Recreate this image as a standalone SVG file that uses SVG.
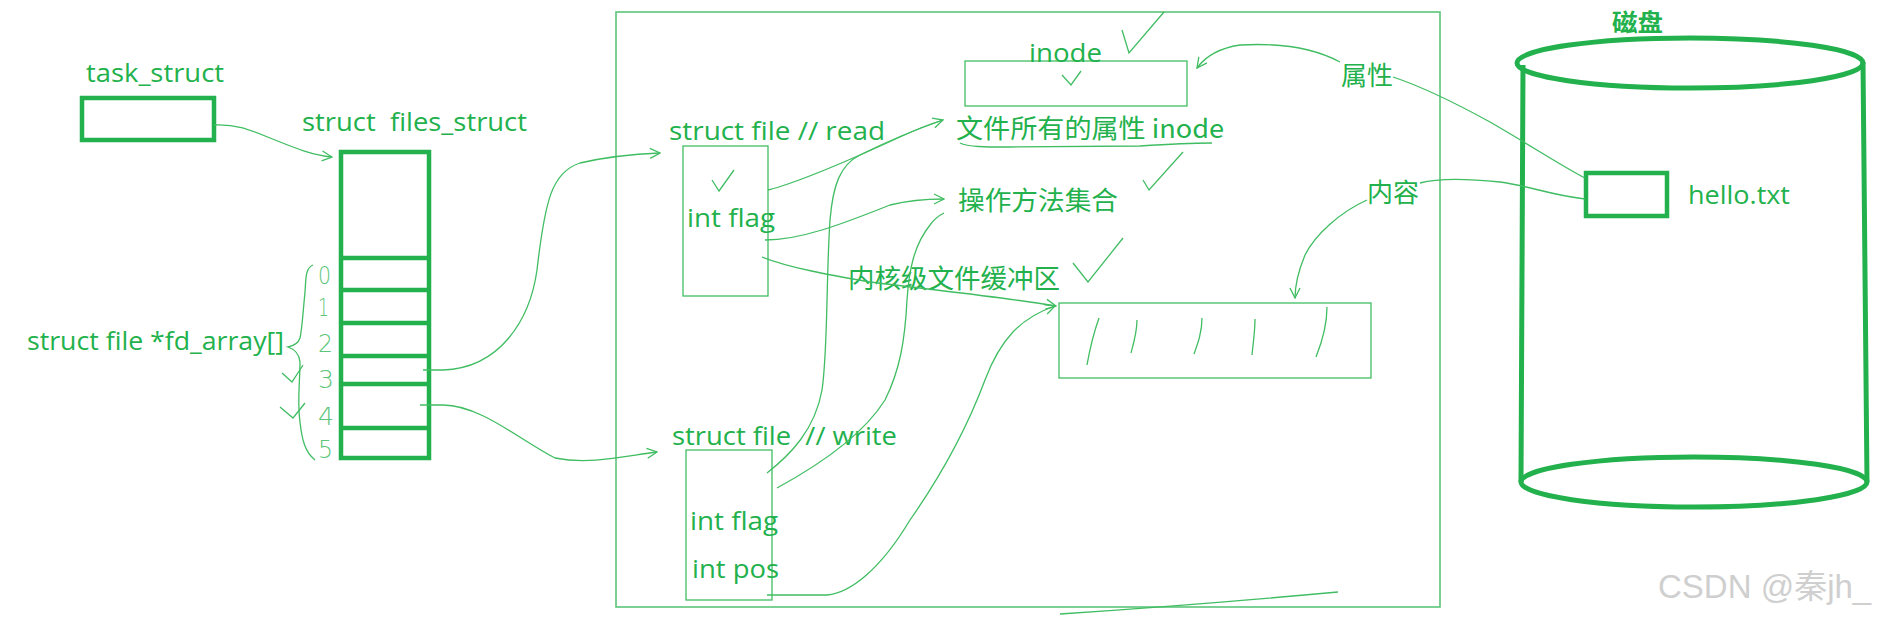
<svg xmlns="http://www.w3.org/2000/svg" width="1879" height="620" viewBox="0 0 1879 620">
<defs>
<marker id="ah" viewBox="0 0 12 12" refX="11" refY="6" markerWidth="12" markerHeight="12" markerUnits="userSpaceOnUse" orient="auto">
<path d="M1,1 L11,6 L1,11" fill="none" stroke="#40bd62" stroke-width="1.3"/>
</marker>
</defs>
<style>
.thick{fill:none;stroke:#22b14c;stroke-width:4.5}
.thin{fill:none;stroke:#40bd62;stroke-width:1.3}
.frame{fill:none;stroke:#5cc57a;stroke-width:1.6}
.t{font-family:"Open Sans","Noto Sans CJK SC",sans-serif;font-size:26px;fill:#22b14c}
.c{font-family:"Noto Sans CJK SC",sans-serif;font-size:26px;fill:#22b14c}
.d{font-family:"DejaVu Sans",sans-serif;font-size:25px;fill:#5cc57a;font-weight:200}
.wm{font-family:"Liberation Sans","Noto Sans CJK SC",sans-serif;font-size:33px;fill:#cfcfcf}
</style>
<rect width="1879" height="620" fill="#ffffff"/>

<g id="kernel-frame">
<rect class="frame" x="616" y="12" width="824" height="595"/>
</g>

<g id="task_struct">
<text class="t" x="86" y="82" textLength="138" lengthAdjust="spacingAndGlyphs">task_struct</text>
<rect class="thick" x="82" y="98" width="132" height="42"/>
</g>

<g id="files_struct">
<text class="t" x="302" y="131" textLength="225" lengthAdjust="spacingAndGlyphs" xml:space="preserve">struct  files_struct</text>
<rect class="thick" x="341" y="152" width="88" height="306"/>
<path class="thick" d="M341,258 H429 M341,290 H431 M341,323 H431 M341,356 H431 M341,384 H429 M341,428 H429"/>
</g>

<g id="fd_array">
<text class="t" x="27" y="350" textLength="257" lengthAdjust="spacingAndGlyphs">struct file *fd_array[]</text>
<path class="thin" d="M313,265 C305,268 306,280 305,292 C303,312 302,330 300,338 C298,344 293,346 288,347 C294,349 299,353 300,362 C300,382 297,402 300,422 C302,440 305,452 315,460"/>
<text class="d" x="318" y="284" textLength="13" lengthAdjust="spacingAndGlyphs">0</text>
<text class="d" x="318" y="316" textLength="11" lengthAdjust="spacingAndGlyphs">1</text>
<text class="d" x="318" y="352" textLength="15" lengthAdjust="spacingAndGlyphs">2</text>
<text class="d" x="318" y="388" textLength="16" lengthAdjust="spacingAndGlyphs">3</text>
<text class="d" x="318" y="425" textLength="16" lengthAdjust="spacingAndGlyphs">4</text>
<text class="d" x="318" y="458" textLength="15" lengthAdjust="spacingAndGlyphs">5</text>
<path class="thin" d="M282,373 L292,382 L303,365 M280,407 L293,418 L305,403"/>
</g>

<g id="file_read">
<text class="t" x="669" y="140" textLength="216" lengthAdjust="spacingAndGlyphs">struct file // read</text>
<rect class="thin" x="683" y="146" width="85" height="150"/>
<path class="thin" d="M712,180 L719,191 L734,170"/>
<text class="t" x="687" y="227" textLength="88" lengthAdjust="spacingAndGlyphs">int flag</text>
</g>

<g id="file_write">
<text class="t" x="672" y="445" textLength="225" lengthAdjust="spacingAndGlyphs" xml:space="preserve">struct file  // write</text>
<rect class="thin" x="686" y="450" width="86" height="150"/>
<text class="t" x="690" y="530" textLength="88" lengthAdjust="spacingAndGlyphs">int flag</text>
<text class="t" x="692" y="578" textLength="87" lengthAdjust="spacingAndGlyphs">int pos</text>
</g>

<g id="inode">
<rect class="thin" x="965" y="61" width="222" height="45"/>
<text class="t" x="1029" y="62" textLength="73" lengthAdjust="spacingAndGlyphs">inode</text>
<path class="thin" d="M1062,75 L1071,85 L1081,71"/>
<path class="thin" d="M1122,30 L1129,53 L1164,12"/>
</g>

<g id="attributes">
<text class="c" x="956" y="138" textLength="268" lengthAdjust="spacingAndGlyphs">文件所有的属性 inode</text>
<path class="thin" d="M960,143 C968,147 985,147 1010,147 L1140,146 C1170,144 1195,143 1212,143"/>
<path class="thin" d="M1143,180 L1149,190 L1183,152"/>
</g>

<g id="operations">
<text class="c" x="958" y="210" textLength="160" lengthAdjust="spacingAndGlyphs">操作方法集合</text>
</g>

<g id="kernel-buffer">
<text class="c" x="848" y="288" textLength="212" lengthAdjust="spacingAndGlyphs">内核级文件缓冲区</text>
<path class="thin" d="M1073,263 L1088,282 L1123,238"/>
<rect class="thin" x="1059" y="303" width="312" height="75"/>
<path class="thin" d="M1099,318 C1094,332 1090,348 1087,365 M1137,320 C1137,332 1134,342 1131,353 M1202,318 C1202,332 1198,343 1194,354 M1255,319 C1255,332 1253,344 1252,355 M1327,307 C1327,325 1322,342 1316,357"/>
</g>

<g id="labels-right">
<text class="c" x="1341" y="85" textLength="52" lengthAdjust="spacingAndGlyphs">属性</text>
<text class="c" x="1367" y="202" textLength="52" lengthAdjust="spacingAndGlyphs">内容</text>
</g>

<g id="disk">
<text class="c" x="1612" y="31" textLength="51" lengthAdjust="spacingAndGlyphs" font-weight="bold" style="font-size:24px">磁盘</text>
<ellipse class="thick" cx="1690" cy="63" rx="173" ry="25" style="stroke-width:5"/>
<ellipse class="thick" cx="1694" cy="482" rx="173" ry="25" style="stroke-width:5"/>
<path class="thick" d="M1523,65 L1521,482 M1863,62 L1867,482" style="stroke-width:5"/>
</g>

<g id="hello_txt">
<rect class="thick" x="1586" y="173" width="81" height="43"/>
<text class="t" x="1688" y="204" textLength="102" lengthAdjust="spacingAndGlyphs">hello.txt</text>
</g>

<g id="connectors">
<path class="thin" marker-end="url(#ah)" d="M214,125 C240,124 252,131 275,140 C295,148 312,155 332,157"/>
<path class="thin" marker-end="url(#ah)" d="M423,370 L443,370 C500,368 530,320 537,270 C545,200 552,172 580,163 C610,156 635,154 660,153"/>
<path class="thin" marker-end="url(#ah)" d="M420,405 L443,405 C480,405 520,440 555,458 C590,465 625,456 657,452"/>
<path class="thin" marker-end="url(#ah)" d="M768,190 C800,182 850,160 900,137 C915,130 930,124 943,120"/>
<path class="thin" marker-end="url(#ah)" d="M765,240 C800,240 840,225 890,205 C910,200 930,199 944,199"/>
<path class="thin" marker-end="url(#ah)" d="M762,257 C790,268 830,275 870,282 C950,292 1010,298 1056,306"/>
<path class="thin" d="M767,473 C790,455 815,430 822,390 C828,350 826,280 830,220 C833,185 840,165 860,155 C890,140 920,128 943,120"/>
<path class="thin" d="M777,488 C810,470 860,440 885,400 C900,370 905,340 907,300 C909,270 914,245 930,225 C935,218 940,215 944,213"/>
<path class="thin" marker-end="url(#ah)" d="M767,595 L827,595 C850,593 880,570 910,520 C945,470 970,420 985,380 C1000,340 1020,318 1055,306"/>
<path class="thin" marker-end="url(#ah)" d="M1340,62 C1310,46 1275,43 1240,45 C1220,48 1205,57 1197,68"/>
<path class="thin" d="M1393,77 C1420,86 1450,100 1490,122 C1530,145 1560,165 1585,178"/>
<path class="thin" d="M1420,183 C1435,179 1460,178 1500,182 C1530,186 1550,195 1585,199"/>
<path class="thin" marker-end="url(#ah)" d="M1367,200 C1340,212 1315,235 1305,255 C1298,272 1295,285 1295,298"/>
<path class="thin" d="M1060,614 C1150,608 1250,600 1338,592"/>
</g>

<g id="watermark">
<text class="wm" x="1658" y="598">CSDN @秦jh_</text>
</g>
</svg>
